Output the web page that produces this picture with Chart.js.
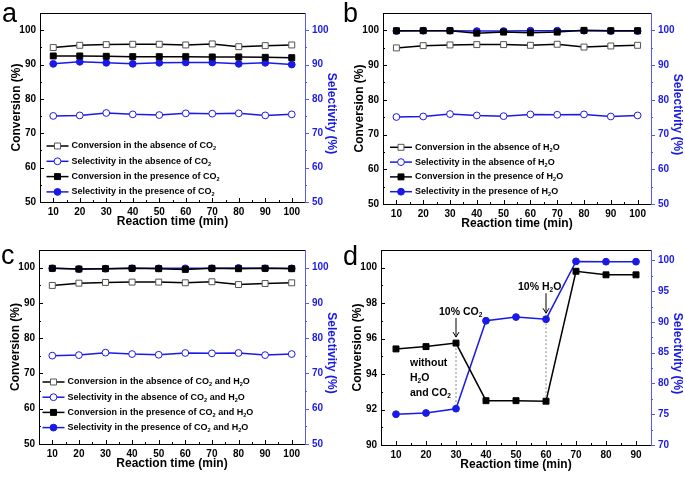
<!DOCTYPE html>
<html>
<head>
<meta charset="utf-8">
<script src="https://cdn.jsdelivr.net/npm/chart.js@4.4.1/dist/chart.umd.min.js"></script>
<style>
  body { margin: 0; background: #fff; width: 685px; height: 477px; position: relative; overflow: hidden; }
  canvas { position: absolute; }
  .tag { position: absolute; font-family: "Liberation Sans", Arial, sans-serif; font-size: 27px; line-height: 1; color: #000; }
</style>
</head>
<body>
<canvas id="ca" width="342" height="237" style="left:0;top:0"></canvas>
<canvas id="cb" width="343" height="237" style="left:342px;top:0"></canvas>
<canvas id="cc" width="342" height="240" style="left:0;top:237px"></canvas>
<canvas id="cd" width="343" height="240" style="left:342px;top:237px"></canvas>
<div class="tag" style="left:2px;top:0px">a</div>
<div class="tag" style="left:343px;top:0px">b</div>
<div class="tag" style="left:1px;top:242px">c</div>
<div class="tag" style="left:343px;top:243px">d</div>
<script>
// reaction time, panels a-c
var timeABC = [10, 20, 30, 40, 50, 60, 70, 80, 90, 100];
// reference run without CO2 / H2O (same in a, b, c)
var convAbsent = [94.95, 95.6, 95.8, 95.9, 95.9, 95.7, 96.0, 95.2, 95.5, 95.7];
var selAbsent  = [75.05, 75.2, 75.9, 75.5, 75.3, 75.8, 75.7, 75.8, 75.2, 75.5];
// a: with CO2
var convCO2 = [92.5, 92.5, 92.4, 92.3, 92.3, 92.3, 92.2, 92.2, 92.1, 92.0];
var selCO2  = [90.2, 90.8, 90.5, 90.2, 90.5, 90.6, 90.6, 90.2, 90.5, 90.0];
// b: with H2O
var convH2O = [99.9, 99.9, 99.9, 99.2, 99.5, 99.3, 99.5, 100.0, 99.9, 99.9];
var selH2O  = [99.8, 99.9, 99.9, 99.8, 99.8, 99.9, 99.9, 99.9, 99.8, 99.8];
// c: with CO2 and H2O
var convBoth = [99.8, 99.6, 99.7, 99.8, 99.7, 99.5, 99.8, 99.7, 99.8, 99.7];
var selBoth  = [99.8, 99.6, 99.7, 99.8, 99.8, 99.8, 99.8, 99.9, 99.8, 99.8];
// d: switching feed
var timeD = [10, 20, 30, 40, 50, 60, 70, 80, 90];
var convD = [95.42, 95.55, 95.75, 92.5, 92.5, 92.47, 99.8, 99.6, 99.6];
var selD  = [75.0, 75.2, 75.9, 90.2, 90.8, 90.45, 99.85, 99.8, 99.8];

// tick labels
var ticksTime = [10, 20, 30, 40, 50, 60, 70, 80, 90, 100];
var ticksTimeD = [10, 20, 30, 40, 50, 60, 70, 80, 90];
var ticksPct = [50, 60, 70, 80, 90, 100];
var ticksConvD = [90, 92, 94, 96, 98, 100];
var ticksSelD = [70, 75, 80, 85, 90, 95, 100];

var legendA = ['Conversion in the absence of CO₂', 'Selectivity in the absence of CO₂',
               'Conversion in the presence of CO₂', 'Selectivity in the presence of CO₂'];
var legendB = ['Conversion in the absence of H₂O', 'Selectivity in the absence of H₂O',
               'Conversion in the presence of H₂O', 'Selectivity in the presence of H₂O'];
var legendC = ['Conversion in the absence of CO₂ and H₂O', 'Selectivity in the absence of CO₂ and H₂O',
               'Conversion in the presence of CO₂ and H₂O', 'Selectivity in the presence of CO₂ and H₂O'];

var FONT = '"Liberation Sans", Arial, sans-serif';
var BLUE = '#1a1ae6';
var AXBLUE = '#5a5aec';

function pts(xs, ys) {
  return xs.map(function (x, i) { return { x: x, y: ys[i] }; });
}

// text with "₂" drawn as a real subscript
function subText(ctx, str, x, y, size, color) {
  var cx = x;
  ctx.fillStyle = color;
  ctx.textBaseline = 'middle';
  ctx.textAlign = 'left';
  str.split(/(₂)/).forEach(function (part) {
    if (!part) return;
    if (part === '₂') {
      ctx.font = 'bold ' + (size * 0.62) + 'px ' + FONT;
      ctx.fillText('2', cx, y + size * 0.32);
      cx += ctx.measureText('2').width;
    } else {
      ctx.font = 'bold ' + size + 'px ' + FONT;
      ctx.fillText(part, cx, y);
      cx += ctx.measureText(part).width;
    }
  });
}

function seg(ctx, x1, y1, x2, y2) {
  ctx.beginPath(); ctx.moveTo(x1, y1); ctx.lineTo(x2, y2); ctx.stroke();
}

function minorOf(t, min, max) {
  var out = [];
  var step = t[1] - t[0];
  for (var v = t[0] - step / 2; v < max + 1e-9; v += step) {
    if (v > min + 1e-9 && v < max - 1e-9 && t.indexOf(v) < 0) out.push(v);
  }
  return out;
}

function title(ctx, text, x, y, rot, color) {
  ctx.save();
  ctx.translate(x, y);
  ctx.rotate(rot);
  ctx.font = 'bold 12px ' + FONT;
  ctx.fillStyle = color;
  ctx.textAlign = 'center';
  ctx.textBaseline = 'middle';
  ctx.fillText(text, 0, 0);
  ctx.restore();
}

// inner ticks, top frame, axis titles and legend
var framePlugin = {
  id: 'frame',
  afterDraw: function (chart, args, opts) {
    var ctx = chart.ctx, a = chart.chartArea;
    var sx = chart.scales.x, yl = chart.scales.y, yr = chart.scales.y2;
    ctx.save();
    ctx.lineWidth = 1;
    ctx.strokeStyle = '#000';
    seg(ctx, a.left, a.top + 0.5, a.right, a.top + 0.5);
    opts.xt.forEach(function (v) { var p = Math.round(sx.getPixelForValue(v)) + 0.5; seg(ctx, p, a.bottom, p, a.bottom - 4); });
    minorOf(opts.xt, sx.min, sx.max).forEach(function (v) { var p = Math.round(sx.getPixelForValue(v)) + 0.5; seg(ctx, p, a.bottom, p, a.bottom - 2); });
    opts.yt.forEach(function (v) { var p = Math.round(yl.getPixelForValue(v)) + 0.5; seg(ctx, a.left, p, a.left + 4, p); });
    minorOf(opts.yt, yl.min, yl.max).forEach(function (v) { var p = Math.round(yl.getPixelForValue(v)) + 0.5; seg(ctx, a.left, p, a.left + 2, p); });
    ctx.strokeStyle = AXBLUE;
    opts.y2t.forEach(function (v) { var p = Math.round(yr.getPixelForValue(v)) + 0.5; seg(ctx, a.right, p, a.right + 4, p); });
    minorOf(opts.y2t, yr.min, yr.max).forEach(function (v) { var p = Math.round(yr.getPixelForValue(v)) + 0.5; seg(ctx, a.right, p, a.right + 2, p); });

    var midY = (a.top + a.bottom) / 2;
    title(ctx, 'Conversion (%)', a.left - 23, midY, -Math.PI / 2, '#000');
    title(ctx, 'Selectivity (%)', a.right + 26, midY + 6, Math.PI / 2, BLUE);
    title(ctx, 'Reaction time (min)', (a.left + a.right) / 2, a.bottom + 20, 0, '#000');

    if (opts.legend) {
      var L = opts.legend;
      chart.data.datasets.forEach(function (ds, i) {
        var y = a.top + L.y + i * L.dy;
        var x0 = a.left + L.x;
        ctx.strokeStyle = ds.borderColor;
        ctx.lineWidth = 1.5;
        seg(ctx, x0, y, x0 + 22, y);
        ctx.fillStyle = ds.pointBackgroundColor;
        ctx.strokeStyle = ds.pointBorderColor;
        ctx.lineWidth = 1;
        Chart.helpers.drawPoint(ctx, { pointStyle: ds.pointStyle, radius: ds.pointRadius, rotation: 0, borderWidth: 1 }, x0 + 11, y);
        subText(ctx, L.labels[i], x0 + 25, y, L.size, '#000');
      });
    }
    ctx.restore();
  }
};

// arrows and notes of panel d
var notesPlugin = {
  id: 'notes',
  afterDraw: function (chart) {
    var ctx = chart.ctx;
    var sx = chart.scales.x, yl = chart.scales.y, yr = chart.scales.y2;
    ctx.save();
    var x30 = sx.getPixelForValue(30), x60 = sx.getPixelForValue(60);
    var yc30 = yl.getPixelForValue(convD[2]), ys30 = yr.getPixelForValue(selD[2]);
    var yc60 = yl.getPixelForValue(convD[5]), ys60 = yr.getPixelForValue(selD[5]);
    ctx.strokeStyle = '#888'; ctx.lineWidth = 1; ctx.setLineDash([2, 2]);
    seg(ctx, x30, yc30 + 5, x30, ys30 - 4);
    seg(ctx, x60, ys60 + 4, x60, yc60 - 4);
    ctx.setLineDash([]);
    ctx.strokeStyle = '#000';
    function arrow(x, y1, y2) {
      seg(ctx, x, y1, x, y2);
      seg(ctx, x - 3, y2 - 5, x, y2); seg(ctx, x + 3, y2 - 5, x, y2);
    }
    arrow(x30, yc30 - 25, yc30 - 6);
    arrow(x60, ys60 - 26, ys60 - 6);
    subText(ctx, '10% CO₂', x30 - 17, yc30 - 31, 10.5, '#000');
    subText(ctx, '10% H₂O', x60 - 28, ys60 - 32, 10.5, '#000');
    var xw = sx.getPixelForValue(10) + 14, yw = yl.getPixelForValue(94);
    subText(ctx, 'without', xw, yw - 10.5, 10.5, '#000');
    subText(ctx, 'H₂O', xw, yw + 4, 10.5, '#000');
    subText(ctx, 'and CO₂', xw, yw + 19, 10.5, '#000');
    ctx.restore();
  }
};

function series(label, xs, ys, axis, style, color, filled, radius) {
  return {
    label: label, data: pts(xs, ys), yAxisID: axis,
    borderColor: color, borderWidth: 1.5,
    pointStyle: style, pointRadius: radius,
    pointBackgroundColor: filled ? color : '#fff',
    pointBorderColor: filled ? color : (style === 'rect' ? '#555' : color),
    pointBorderWidth: 1, tension: 0
  };
}

function panel(id, cfg) {
  var tickFont = { family: FONT, size: 10, weight: 'bold' };
  new Chart(document.getElementById(id), {
    type: 'line',
    data: { datasets: cfg.datasets },
    plugins: cfg.plugins,
    options: {
      responsive: false,
      animation: false,
      layout: { autoPadding: false, padding: { top: cfg.top, left: 0, right: 0, bottom: 0 } },
      plugins: {
        legend: { display: false },
        tooltip: { enabled: false },
        frame: { xt: cfg.xt, yt: cfg.yt, y2t: cfg.y2t, legend: cfg.legend }
      },
      scales: {
        x: {
          type: 'linear', min: cfg.xmin, max: cfg.xmax,
          afterBuildTicks: function (s) { s.ticks = cfg.xt.map(function (v) { return { value: v }; }); },
          afterFit: function (s) { s.height = cfg.xh; },
          grid: { display: false, drawTicks: false },
          border: { color: '#000', width: 1 },
          ticks: { font: tickFont, color: '#000', padding: 4, autoSkip: false, maxRotation: 0 }
        },
        y: {
          position: 'left', min: cfg.ymin, max: cfg.ymax,
          afterBuildTicks: function (s) { s.ticks = cfg.yt.map(function (v) { return { value: v }; }); },
          afterFit: function (s) { s.width = cfg.yw; },
          grid: { display: false, drawTicks: false },
          border: { color: '#000', width: 1 },
          ticks: { font: tickFont, color: '#000', padding: 4 }
        },
        y2: {
          position: 'right', min: cfg.y2min, max: cfg.y2max,
          afterBuildTicks: function (s) { s.ticks = cfg.y2t.map(function (v) { return { value: v }; }); },
          afterFit: function (s) { s.width = cfg.y2w; },
          grid: { display: false, drawTicks: false },
          border: { color: AXBLUE, width: 1 },
          ticks: { font: tickFont, color: BLUE, padding: 7 }
        }
      }
    }
  });
}

function fourSeries(labels, conv, sel) {
  return [
    series(labels[0], timeABC, convAbsent, 'y', 'rect', '#000', false, 4.2),
    series(labels[1], timeABC, selAbsent, 'y2', 'circle', BLUE, false, 3.4),
    series(labels[2], timeABC, conv, 'y', 'rect', '#000', true, 4.2),
    series(labels[3], timeABC, sel, 'y2', 'circle', BLUE, true, 3.4)
  ];
}

var base = { xmin: 5, xmax: 105, ymin: 50, ymax: 105, y2min: 50, y2max: 105,
             xt: ticksTime, yt: ticksPct, y2t: ticksPct, plugins: [framePlugin] };

panel('ca', Object.assign({}, base, {
  datasets: fourSeries(legendA, convCO2, selCO2),
  top: 4, xh: 35, yw: 40, y2w: 37,
  legend: { labels: legendA, x: 6.5, y: 133, dy: 15.3, size: 9 }
}));
panel('cb', Object.assign({}, base, {
  datasets: fourSeries(legendB, convH2O, selH2O),
  top: 5, xh: 33, yw: 41, y2w: 34,
  legend: { labels: legendB, x: 7, y: 134.3, dy: 14.8, size: 9 }
}));
panel('cc', Object.assign({}, base, {
  datasets: fourSeries(legendC, convBoth, selBoth),
  top: 6, xh: 33, yw: 39, y2w: 37,
  legend: { labels: legendC, x: 3.5, y: 132, dy: 15.2, size: 9 }
}));
panel('cd', Object.assign({}, base, {
  datasets: [
    series('Conversion', timeD, convD, 'y', 'rect', '#000', true, 4.2),
    series('Selectivity', timeD, selD, 'y2', 'circle', BLUE, true, 3.4)
  ],
  plugins: [framePlugin, notesPlugin],
  xmin: 5, xmax: 95, ymin: 90, ymax: 101, y2min: 70, y2max: 101.7,
  xt: ticksTimeD, yt: ticksConvD, y2t: ticksSelD,
  top: 8, xh: 32, yw: 39, y2w: 34,
  legend: null
}));
</script>
</body>
</html>
